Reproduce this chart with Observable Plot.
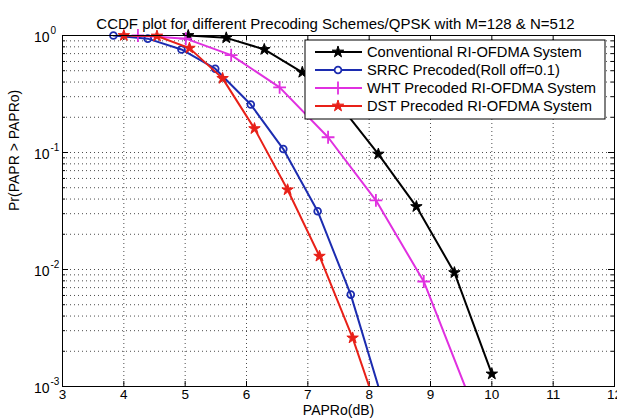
<!DOCTYPE html>
<html><head><meta charset="utf-8">
<script src="https://cdn.jsdelivr.net/npm/d3@7"></script>
<script src="https://cdn.jsdelivr.net/npm/@observablehq/plot@0.6"></script>
<style>
body{margin:0;background:#fff;}
#chart{width:617px;height:419px;}
</style>
</head><body><div id="chart"></div>
<script>
const titleText = "CCDF plot for different Precoding Schemes/QPSK with M=128 & N=512";
const xLabel = "PAPRo(dB)";
const yLabel = "Pr(PAPR > PAPRo)";
const seriesNames = ["Conventional RI-OFDMA System","SRRC Precoded(Roll off=0.1)","WHT Precoded RI-OFDMA System","DST Precoded RI-OFDMA System"];
const seriesColors = ["#000000","#1c2cb0","#e030e0","#e82018"];
const seriesSymbols = ["star","circle","plus","star"];
const seriesFilled = [true,false,false,true];

const convX = [5.05,5.67,6.29,6.91,7.53,8.15,8.77,9.39,10.0];
const convY = [1.0,0.955,0.76,0.485,0.25,0.097,0.0345,0.0094,0.00128];
const srrcX = [3.83,4.39,4.94,5.49,6.07,6.60,7.16,7.70,8.25];
const srrcY = [1.0,0.94,0.76,0.52,0.257,0.107,0.0315,0.0061,0.00067];
const whtX = [4.23,5.01,5.75,6.54,7.33,8.11,8.89,9.68];
const whtY = [1.0,0.94,0.68,0.36,0.135,0.039,0.0079,0.0007];
const dstX = [4.0,4.54,5.07,5.61,6.13,6.67,7.19,7.73,8.26];
const dstY = [1.0,0.99,0.78,0.43,0.16,0.048,0.013,0.0026,0.0004];

const xTicks = [3,4,5,6,7,8,9,10,11,12];
const yDecades = [1e-3,1e-2,1e-1,1];
const yExponents = ["-3","-2","-1","0"];
const minorMult = [2,3,4,5,6,7,8,9];

const allX = [convX, srrcX, whtX, dstX];
const allY = [convY, srrcY, whtY, dstY];
const data = [];
allX.forEach((xs, s) => xs.forEach((x, i) => data.push({s, name: seriesNames[s], x, y: allY[s][i]})));
const yGrid = [];
[1e-3,1e-2,1e-1].forEach(d => minorMult.forEach(m => yGrid.push(d*m)));
yGrid.push(1e-2, 1e-1);
const yAllTicks = yGrid.concat([1e-3,1]);
const font = "'Liberation Sans', Arial, sans-serif";

const W = 617, H = 419, mL = 62, mR = 3, mT = 35, mB = 33;
const fw = W - mL - mR, fh = H - mT - mB;
const symR = {star: 3.6, circle: 3.4, plus: 4.2};

const marks = [
  Plot.ruleX(xTicks.slice(1,-1), {x: d=>d, stroke:"#000", strokeOpacity:0.7, strokeDasharray:"1,3"}),
  Plot.ruleY(yGrid, {y: d=>d, stroke:"#000", strokeOpacity:0.7, strokeDasharray:"1,3"}),
  Plot.ruleX(xTicks, {x:d=>d, insetTop: fh-5, stroke:"#000"}),
  Plot.ruleX(xTicks, {x:d=>d, insetBottom: fh-5, stroke:"#000"}),
  Plot.ruleY(yAllTicks, {y:d=>d, insetRight: fw-3, stroke:"#000"}),
  Plot.ruleY(yAllTicks, {y:d=>d, insetLeft: fw-3, stroke:"#000"}),
  Plot.ruleY(yDecades, {y:d=>d, insetRight: fw-6, stroke:"#000"}),
  Plot.ruleY(yDecades, {y:d=>d, insetLeft: fw-6, stroke:"#000"}),
];
for (let s = 0; s < 4; s++) {
  const d = data.filter(r => r.s === s);
  marks.push(Plot.line(d, {x:"x", y:"y", stroke: seriesColors[s], strokeWidth: 2, clip: true}));
  const inside = d.filter(r => r.y >= 1e-3);
  marks.push(Plot.dot(inside, {x:"x", y:"y", symbol: seriesSymbols[s], r: symR[seriesSymbols[s]],
    stroke: seriesColors[s], strokeWidth: seriesFilled[s]?1:1.8, fill: seriesFilled[s]?seriesColors[s]:"none"}));
}
marks.push(
  Plot.frame({stroke:"#000", strokeWidth:1}),
  Plot.axisX(xTicks, {tickSize:0, tickPadding:3, fontSize:13.5, label:null, tickFormat: d=>String(d)}),
  Plot.text(yDecades, {x: ()=>3, y: d=>d, text: ()=>"10", textAnchor:"end", dx:-13, dy:2, fontSize:14}),
  Plot.text(yDecades, {x: ()=>3, y: d=>d, text: (d,i)=>yExponents[i], textAnchor:"start", dx:-12, dy:-5, fontSize:10}),
  Plot.text([titleText], {frameAnchor:"top", dy:-17, dx:-3, text:d=>d, fontSize:15}),
  Plot.text([xLabel], {frameAnchor:"bottom", dy:28, text:d=>d, fontSize:14}),
  Plot.text([yLabel], {frameAnchor:"left", dx:-48, rotate:-90, text:d=>d, fontSize:14})
);

const chart = Plot.plot({
  width: W, height: H,
  marginLeft: mL, marginRight: mR, marginTop: mT, marginBottom: mB,
  x: {domain:[3,12], axis:null},
  y: {type:"log", domain:[1e-3,1], axis:null},
  style: {fontFamily: font, fontSize:"13px", background:"#fff", color:"#000"},
  marks
});
document.getElementById("chart").appendChild(chart);

// legend
const svg = d3.select(chart);
const lg = svg.append("g").attr("transform","translate(305,40)");
lg.append("rect").attr("width",300).attr("height",79).attr("fill","#fff").attr("stroke","#000");
const symMap = {star: d3.symbolStar, circle: d3.symbolCircle, plus: d3.symbolPlus};
seriesNames.forEach((name, i) => {
  const yy = 12 + i*18;
  lg.append("line").attr("x1",10).attr("x2",57).attr("y1",yy).attr("y2",yy)
    .attr("stroke",seriesColors[i]).attr("stroke-width",2);
  const r = symR[seriesSymbols[i]];
  lg.append("path").attr("d", d3.symbol(symMap[seriesSymbols[i]], Math.PI*r*r)())
    .attr("transform",`translate(33,${yy})`)
    .attr("fill", seriesFilled[i]?seriesColors[i]:"#fff")
    .attr("stroke", seriesColors[i]).attr("stroke-width", seriesFilled[i]?1:1.8);
  lg.append("text").attr("x",62).attr("y",yy).attr("dy","0.35em").attr("text-anchor","start")
    .attr("font-family",font).attr("font-size",14.7).attr("fill","#000").text(name);
});
</script>
</body></html>
